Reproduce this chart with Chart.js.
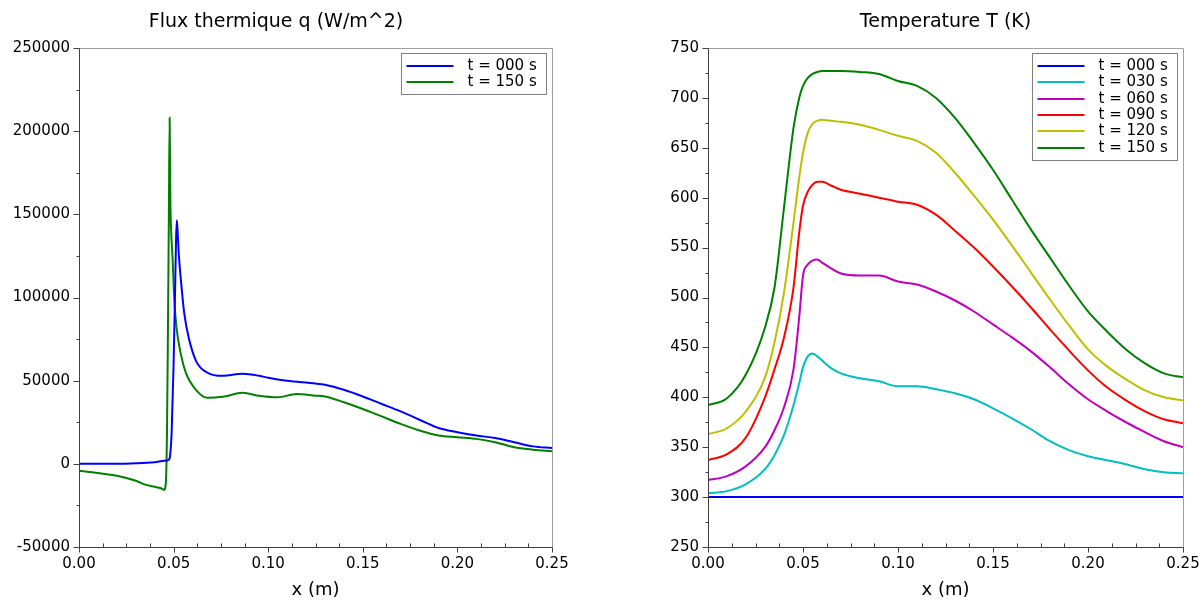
<!DOCTYPE html>
<html>
<head>
<meta charset="utf-8">
<script src="https://cdn.jsdelivr.net/npm/chart.js@4.4.0/dist/chart.umd.min.js"></script>
<style>
    html, body { margin: 0; padding: 0; background: #fff; overflow: hidden; }
    .panel { position: absolute; top: 0; width: 601px; height: 602px; }
    #left-panel { left: 0; }
    #right-panel { left: 601px; }
</style>
</head>
<body>
<div class="panel" id="left-panel"><canvas id="flux-chart"></canvas></div>
<div class="panel" id="right-panel"><canvas id="temp-chart"></canvas></div>
<script>
// Heat flux q (W/m^2)
const fluxX000 = [0, 0.01, 0.02, 0.03, 0.04, 0.045, 0.0475, 0.0482, 0.049, 0.050, 0.0508, 0.0513, 0.0517,
    0.0522, 0.0528, 0.0539, 0.0556, 0.0579, 0.0621, 0.068, 0.0759, 0.0865, 0.0953, 0.10, 0.11, 0.125,
    0.13, 0.14, 0.15, 0.16, 0.17, 0.18, 0.19, 0.20, 0.21, 0.22, 0.23, 0.24, 0.25];
const flux000 = [0, 0, 0, 300, 1000, 1800, 2500, 5400, 20000, 60000, 105000, 135000, 146500,
    138000, 125000, 110000, 90700, 76300, 61300, 54700, 52900, 54100, 52900, 51700, 49900, 48300,
    47500, 44500, 40500, 36000, 31500, 26500, 21500, 19000, 17000, 15500, 13000, 10500, 9500];

const fluxX150 = [0, 0.01, 0.02, 0.03, 0.035, 0.04, 0.043, 0.045, 0.0459, 0.0465, 0.047, 0.0475, 0.0479,
    0.0483, 0.0487, 0.0494, 0.0503, 0.0515, 0.0539, 0.0565, 0.0618, 0.068, 0.0759, 0.0865, 0.0953,
    0.105, 0.115, 0.125, 0.13, 0.14, 0.15, 0.16, 0.17, 0.18, 0.19, 0.20, 0.21, 0.22, 0.23, 0.24, 0.25];
const flux150 = [-4200, -5500, -7200, -10200, -12500, -13800, -14500, -15600, -11400, 18600, 78700, 150000, 208000,
    158000, 140000, 125000, 100000, 82300, 65500, 54700, 44500, 39700, 40300, 42700, 40900,
    40000, 42000, 41000, 40500, 37000, 33000, 28500, 24000, 20000, 17000, 16000, 15000, 13000, 10000, 8500, 7500];

// Temperature T (K)
const tempX = [0, 0.01, 0.02, 0.03, 0.035, 0.04, 0.045, 0.048, 0.05, 0.0525, 0.055, 0.0575, 0.06, 0.065,
    0.07, 0.08, 0.09, 0.10, 0.11, 0.12, 0.13, 0.14, 0.15, 0.16, 0.17, 0.18, 0.19, 0.20, 0.21, 0.22,
    0.23, 0.24, 0.25];
const temp000 = tempX.map(() => 300);
const temp030 = [304, 306, 313, 328, 342, 362, 392, 414, 430, 441, 444, 441, 437, 429,
    424, 419, 416, 411, 411, 408, 404, 398, 389, 379, 368, 356, 347, 341, 337, 333, 328, 325, 324];
const temp060 = [317, 321, 331, 350, 367, 390, 428, 480, 522, 533, 537, 538, 535, 529,
    524, 522, 522, 516, 513, 506, 497, 486, 473, 460, 446, 430, 413, 398, 386, 375, 365, 356, 350];
const temp090 = [337, 343, 360, 400, 428, 460, 510, 565, 592, 606, 613, 616, 616, 612,
    608, 604, 600, 596, 593, 583, 567, 550, 531, 511, 490, 468, 447, 427, 410, 397, 386, 378, 374];
const temp120 = [363, 369, 386, 420, 455, 505, 575, 620, 645, 665, 674, 677, 678, 677,
    676, 673, 668, 662, 657, 645, 625, 602, 578, 552, 525, 498, 472, 448, 431, 418, 407, 400, 397];
const temp150 = [392, 399, 423, 470, 510, 590, 670, 700, 712, 720, 724, 726, 727, 727,
    727, 726, 724, 717, 712, 700, 680, 655, 628, 598, 568, 540, 512, 486, 466, 448, 434, 424, 420];

const SERIES_COLORS = {
    t000: '#0000ff',
    t030: '#00bfbf',
    t060: '#bf00bf',
    t090: '#ff0000',
    t120: '#bfbf00',
    t150: '#008000'
};

Chart.defaults.font.family = '"DejaVu Sans", sans-serif';
Chart.defaults.color = '#000';

function points(xs, ys) {
    return xs.map((x, i) => ({ x: x, y: ys[i] }));
}

function series(label, xs, ys, color) {
    return {
        label: label,
        data: points(xs, ys),
        borderColor: color,
        backgroundColor: color,
        borderWidth: 2,
        pointRadius: 0,
        fill: false,
        cubicInterpolationMode: 'monotone'
    };
}

// Box around the plot plus Scilab-like ticks
const framePlugin = {
    id: 'frame',
    afterDatasetsDraw(chart) {
        const { ctx, chartArea: a, scales } = chart;
        const L = Math.round(a.left) + 0.5, R = Math.round(a.right) + 0.5;
        const T = Math.round(a.top) + 0.5, B = Math.round(a.bottom) + 0.5;
        const line = (x1, y1, x2, y2) => {
            ctx.beginPath();
            ctx.moveTo(x1, y1);
            ctx.lineTo(x2, y2);
            ctx.stroke();
        };
        ctx.save();
        ctx.lineWidth = 1;
        ctx.strokeStyle = '#a0a0a0';
        line(L, T, R, T);
        line(R, T, R, B);
        ctx.strokeStyle = '#404040';
        line(L, T, L, B);
        line(L, B, R, B);
        scales.y.ticks.forEach(t => {
            const y = Math.round(scales.y.getPixelForValue(t.value)) + 0.5;
            line(L - (t.label === '' ? 3 : 6), y, L, y);
        });
        scales.x.ticks.forEach(t => {
            const x = Math.round(scales.x.getPixelForValue(t.value)) + 0.5;
            if (t.label === '') line(x, B, x, B - 4);
            else line(x, B, x, B + 5);
        });
        ctx.restore();
    }
};

// Framed legend in the top right corner of the plot
const legendBoxPlugin = {
    id: 'legendBox',
    afterDraw(chart) {
        const { ctx, chartArea: a } = chart;
        const sets = chart.data.datasets;
        const w = 145, rowH = 16.3, padY = 12.5;
        const h = Math.round(padY * 2 + rowH * (sets.length - 1));
        const x0 = Math.round(a.right - 6 - w) + 0.5;
        const y0 = Math.round(a.top + 5) + 0.5;
        ctx.save();
        ctx.fillStyle = '#fff';
        ctx.fillRect(x0, y0, w, h);
        ctx.strokeStyle = '#808080';
        ctx.lineWidth = 1;
        ctx.strokeRect(x0, y0, w, h);
        ctx.font = '15px "DejaVu Sans"';
        ctx.textBaseline = 'middle';
        sets.forEach((ds, i) => {
            const y = Math.round(y0 + padY + i * rowH);
            ctx.strokeStyle = ds.borderColor;
            ctx.lineWidth = 2;
            ctx.beginPath();
            ctx.moveTo(x0 + 5, y);
            ctx.lineTo(x0 + 52, y);
            ctx.stroke();
            ctx.fillStyle = '#000';
            ctx.fillText(ds.label, x0 + 66, y);
        });
        ctx.restore();
    }
};

function xLabel(value) {
    const k = value * 20;
    return Math.abs(k - Math.round(k)) < 1e-6 ? value.toFixed(2) : '';
}

function buildOptions(title, titleFull, yMin, yMax, yStep, yAxisWidth, rightPad) {
    return {
        responsive: true,
        maintainAspectRatio: false,
        animation: false,
        layout: { padding: { left: 0, right: rightPad, top: 0, bottom: 0 } },
        plugins: {
            legend: { display: false },
            tooltip: { enabled: false },
            title: {
                display: true,
                text: title,
                fullSize: titleFull,
                font: { size: 19, weight: 'normal' },
                color: '#000',
                padding: { top: 10.6, bottom: 14.6 }
            }
        },
        scales: {
            x: {
                type: 'linear',
                min: 0,
                max: 0.25,
                grid: { display: false, drawTicks: false },
                border: { display: false },
                ticks: {
                    stepSize: 0.0125,
                    maxTicksLimit: 100,
                    autoSkip: false,
                    maxRotation: 0,
                    padding: 8,
                    font: { size: 15 },
                    color: '#000',
                    callback: value => xLabel(value)
                },
                title: {
                    display: true,
                    text: 'x (m)',
                    font: { size: 18 },
                    color: '#000',
                    padding: { top: 0, bottom: 1 }
                },
                afterFit: scale => {
                    scale.height = 55;
                    scale.paddingLeft = 0;
                    scale.paddingRight = 0;
                }
            },
            y: {
                min: yMin,
                max: yMax,
                grid: { display: false, drawTicks: false },
                border: { display: false },
                ticks: {
                    stepSize: yStep / 2,
                    maxTicksLimit: 100,
                    autoSkip: false,
                    padding: 9,
                    font: { size: 15 },
                    color: '#000',
                    callback: value => (Math.round(value / yStep) * yStep === value ? String(value) : '')
                },
                afterFit: scale => {
                    scale.width = yAxisWidth;
                    scale.paddingTop = 0;
                    scale.paddingBottom = 0;
                }
            }
        }
    };
}

// Heat flux chart
new Chart(document.getElementById('flux-chart'), {
    type: 'line',
    data: {
        datasets: [
            series('t = 000 s', fluxX000, flux000, SERIES_COLORS.t000),
            series('t = 150 s', fluxX150, flux150, SERIES_COLORS.t150)
        ]
    },
    options: buildOptions('Flux thermique q (W/m^2)', true, -50000, 250000, 50000, 79, 49),
    plugins: [framePlugin, legendBoxPlugin]
});

// Temperature chart
new Chart(document.getElementById('temp-chart'), {
    type: 'line',
    data: {
        datasets: [
            series('t = 000 s', tempX, temp000, SERIES_COLORS.t000),
            series('t = 030 s', tempX, temp030, SERIES_COLORS.t030),
            series('t = 060 s', tempX, temp060, SERIES_COLORS.t060),
            series('t = 090 s', tempX, temp090, SERIES_COLORS.t090),
            series('t = 120 s', tempX, temp120, SERIES_COLORS.t120),
            series('t = 150 s', tempX, temp150, SERIES_COLORS.t150)
        ]
    },
    options: buildOptions('Temperature T (K)', false, 250, 750, 50, 107, 19),
    plugins: [framePlugin, legendBoxPlugin]
});
</script>
</body>
</html>
